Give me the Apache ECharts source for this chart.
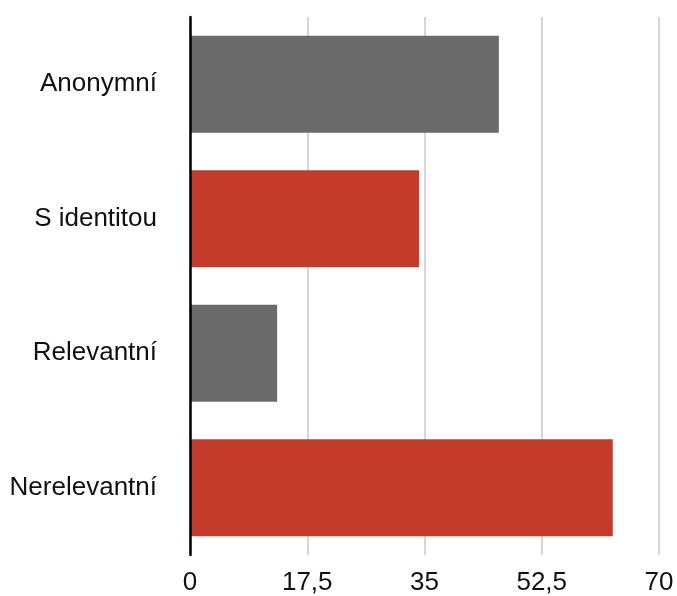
<!DOCTYPE html>
<html>
<head>
<meta charset="utf-8">
<script src="https://cdn.jsdelivr.net/npm/echarts@6/dist/echarts.min.js"></script>
<style>
html,body{margin:0;padding:0;background:#fff;}
#c{width:677px;height:596px;}
</style>
</head>
<body>
<div id="c"></div>
<script>
var categories = ['Anonymní', 'S identitou', 'Relevantní', 'Nerelevantní'];
var values = [46.1, 34.2, 13.0, 63.1];
var tickLabels = ['0', '17,5', '35', '52,5', '70'];
var barColors = ['#6a6a6a', '#c33c2b'];

var chart = echarts.init(document.getElementById('c'), null, {renderer: 'canvas'});
var font = '"Liberation Sans", Arial, Helvetica, sans-serif';
chart.setOption({
  animation: false,
  grid: {left: 190, right: 18, top: 17, bottom: 40, containLabel: false},
  xAxis: {
    type: 'value',
    min: 0,
    max: 70,
    interval: 17.5,
    axisLine: {show: false},
    axisTick: {show: false},
    splitLine: {show: true, lineStyle: {color: '#c9c9c9', width: 1.5}},
    axisLabel: {
      margin: 15,
      fontSize: 26,
      color: '#111',
      fontFamily: font,
      formatter: function (v) {
        var i = Math.round(v / 17.5);
        return tickLabels[i] !== undefined ? tickLabels[i] : String(v);
      }
    }
  },
  yAxis: {
    type: 'category',
    data: categories,
    inverse: true,
    z: 5,
    axisLine: {show: true, lineStyle: {color: '#000', width: 2.5}},
    axisTick: {show: false},
    axisLabel: {margin: 33, fontSize: 26, color: '#111', fontFamily: font}
  },
  series: [{
    type: 'bar',
    data: values,
    barCategoryGap: '28%',
    itemStyle: {
      color: function (p) { return barColors[p.dataIndex % 2]; }
    }
  }]
});
</script>
</body>
</html>
